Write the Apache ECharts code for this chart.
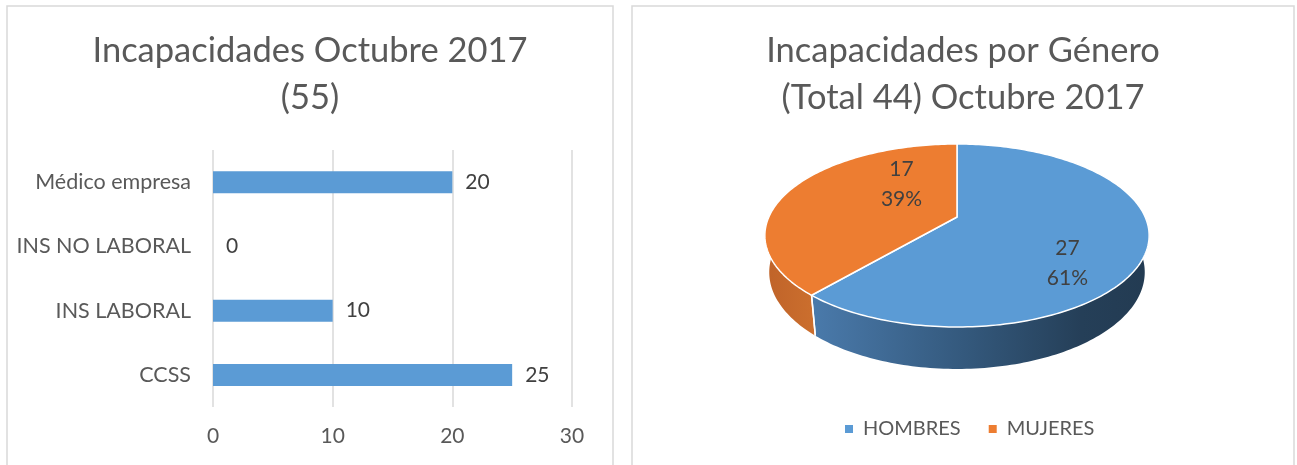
<!DOCTYPE html>
<html>
<head>
<meta charset="utf-8">
<script src="https://cdn.jsdelivr.net/npm/echarts@6/dist/echarts.min.js"></script>
<style>
  html, body { margin: 0; padding: 0; background: #ffffff; }
  #chart { width: 1297px; height: 465px; }
</style>
</head>
<body>
<div id="chart"></div>
<script>
// Incapacidades por ente emisor (barras, de abajo hacia arriba)
const barCategories = ['CCSS', 'INS LABORAL', 'INS NO LABORAL', 'Médico empresa'];
const barValues = [25, 10, 0, 20];
const barAxisMin = 0;
const barAxisMax = 30;
const barAxisStep = 10;

// Incapacidades por género
const genderNames = ['HOMBRES', 'MUJERES'];
const genderValues = [27, 17];

const FONT = 'Lato, "Noto Sans", sans-serif';
const TEXT_GREY = '#595959';
const LABEL_GREY = '#404040';

// --- 3D pie geometry (perspective projection of a tilted disc) ---
const PIE = {
  cx: 957, cy: 217,      // screen position of the disc centre
  fx: 828, fy: 845,      // focal lengths
  dist: 4.40,            // camera distance (in radii)
  sinA: 0.457, cosA: 0.889, // tilt
  thick: 0.216           // disc thickness (in radii)
};
const TOP_COLORS = ['#5b9bd5', '#ed7d31'];
const WALL_FILLS = [
  () => new echarts.graphic.LinearGradient(0, 0, 1, 0, [
    { offset: 0, color: '#4a7aab' },
    { offset: 0.45, color: '#34597d' },
    { offset: 0.8, color: '#253f58' },
    { offset: 1, color: '#233b52' }
  ]),
  () => new echarts.graphic.LinearGradient(0, 0, 1, 0, [
    { offset: 0, color: '#bf6329' },
    { offset: 1, color: '#cc6f2e' }
  ])
];
// fine placement of each slice's value label
const LABEL_NUDGE = [[0, 27], [46, -15]];

const genderTotal = genderValues.reduce((a, b) => a + b, 0);

// theta measured clockwise from the back of the disc; f = radial fraction; depth 0 = top face, 1 = bottom
function project(theta, f, depth) {
  const u = f * Math.sin(theta);
  const v = f * Math.cos(theta);
  const y = -depth * PIE.thick;
  const Y = v * PIE.sinA + y * PIE.cosA;
  const Z = PIE.dist + v * PIE.cosA - y * PIE.sinA;
  return [PIE.cx + PIE.fx * u / Z, PIE.cy - PIE.fy * Y / Z];
}

function arcPoints(a0, a1, depth) {
  const pts = [];
  const n = Math.max(2, Math.ceil((a1 - a0) / 0.02));
  for (let k = 0; k <= n; k++) {
    pts.push(project(a0 + (a1 - a0) * k / n, 1, depth));
  }
  return pts;
}

function sliceAngles(i) {
  let before = 0;
  for (let k = 0; k < i; k++) before += genderValues[k];
  const a0 = before / genderTotal * Math.PI * 2;
  const a1 = (before + genderValues[i]) / genderTotal * Math.PI * 2;
  return [a0, a1];
}

function makeSliceRenderer(i) {
  return function (params, api) {
    const value = api.value(0);
    const [a0, a1] = sliceAngles(i);
    const children = [];

    // outer wall, only the part that faces the viewer
    const b0 = Math.max(a0, Math.PI / 2);
    const b1 = Math.min(a1, Math.PI * 3 / 2);
    if (b1 > b0) {
      const top = arcPoints(b0, b1, 0);
      const bottom = arcPoints(b0, b1, 1).reverse();
      children.push({
        type: 'polygon',
        z2: 1,
        shape: { points: top.concat(bottom) },
        style: { fill: WALL_FILLS[i](), stroke: null }
      });
      [a0, a1].forEach(function (a) {
        if (a > Math.PI / 2 && a < Math.PI * 3 / 2) {
          const p = project(a, 1, 0), q = project(a, 1, 1);
          children.push({
            type: 'line',
            z2: 2,
            shape: { x1: p[0], y1: p[1], x2: q[0], y2: q[1] },
            style: { stroke: '#ffffff', lineWidth: 1.5 }
          });
        }
      });
    }

    // top face
    const centre = project(0, 0, 0);
    children.push({
      type: 'polygon',
      z2: 10,
      shape: { points: [centre].concat(arcPoints(a0, a1, 0)) },
      style: { fill: TOP_COLORS[i], stroke: '#ffffff', lineWidth: 1.5, lineJoin: 'round' }
    });

    // value + percentage label
    const mid = (a0 + a1) / 2;
    const lp = project(mid, 0.6, 0);
    const pct = Math.round(value / genderTotal * 100);
    children.push({
      type: 'text',
      z2: 20,
      style: {
        text: value + '\n' + pct + '%',
        x: lp[0] + LABEL_NUDGE[i][0],
        y: lp[1] + LABEL_NUDGE[i][1],
        align: 'center',
        verticalAlign: 'middle',
        fill: LABEL_GREY,
        font: '21px ' + FONT,
        lineHeight: 30
      }
    });

    return { type: 'group', children: children };
  };
}

const pieSeries = genderNames.map(function (name, i) {
  return {
    type: 'custom',
    name: name,
    coordinateSystem: 'none',
    color: TOP_COLORS[i],
    silent: true,
    renderItem: makeSliceRenderer(i),
    data: [genderValues[i]]
  };
});

const chart = echarts.init(document.getElementById('chart'), null, { renderer: 'canvas' });

chart.setOption({
  backgroundColor: '#ffffff',
  animation: false,
  textStyle: { fontFamily: FONT },
  graphic: [
    { type: 'rect', silent: true, shape: { x: 7, y: 6, width: 606, height: 470 },
      style: { fill: 'none', stroke: '#d9d9d9', lineWidth: 1.5 } },
    { type: 'rect', silent: true, shape: { x: 632, y: 6, width: 662, height: 470 },
      style: { fill: 'none', stroke: '#d9d9d9', lineWidth: 1.5 } }
  ],
  title: [
    {
      text: 'Incapacidades Octubre 2017\n(55)',
      left: 310, top: 27, textAlign: 'center', padding: 0,
      textStyle: { fontFamily: FONT, fontSize: 34.5, fontWeight: 'normal', color: TEXT_GREY, lineHeight: 47 }
    },
    {
      text: 'Incapacidades por Género\n(Total 44) Octubre 2017',
      left: 963, top: 27, textAlign: 'center', padding: 0,
      textStyle: { fontFamily: FONT, fontSize: 34.5, fontWeight: 'normal', color: TEXT_GREY, lineHeight: 47 }
    }
  ],
  legend: {
    data: genderNames,
    left: 845, top: 419, padding: 0,
    icon: 'rect', itemWidth: 8, itemHeight: 8, itemGap: 28,
    textStyle: { fontFamily: FONT, fontSize: 20, color: TEXT_GREY, padding: [0, 0, 0, 5] }
  },
  grid: { left: 213, top: 150, width: 359, height: 257, containLabel: false },
  xAxis: {
    type: 'value',
    min: barAxisMin, max: barAxisMax, interval: barAxisStep,
    axisLine: { show: false },
    axisTick: { show: false },
    splitLine: { show: true, lineStyle: { color: '#d9d9d9', width: 1.5 } },
    axisLabel: { color: TEXT_GREY, fontFamily: FONT, fontSize: 21, margin: 19 }
  },
  yAxis: {
    type: 'category',
    data: barCategories,
    axisLine: { show: false },
    axisTick: { show: false },
    axisLabel: { color: TEXT_GREY, fontFamily: FONT, fontSize: 21.5, margin: 22 }
  },
  series: [
    {
      type: 'bar',
      name: 'Incapacidades',
      data: barValues,
      barWidth: 22,
      itemStyle: { color: '#5b9bd5' },
      label: {
        show: true, position: 'right', distance: 13,
        color: LABEL_GREY, fontFamily: FONT, fontSize: 21
      }
    }
  ].concat(pieSeries)
});
</script>
</body>
</html>
